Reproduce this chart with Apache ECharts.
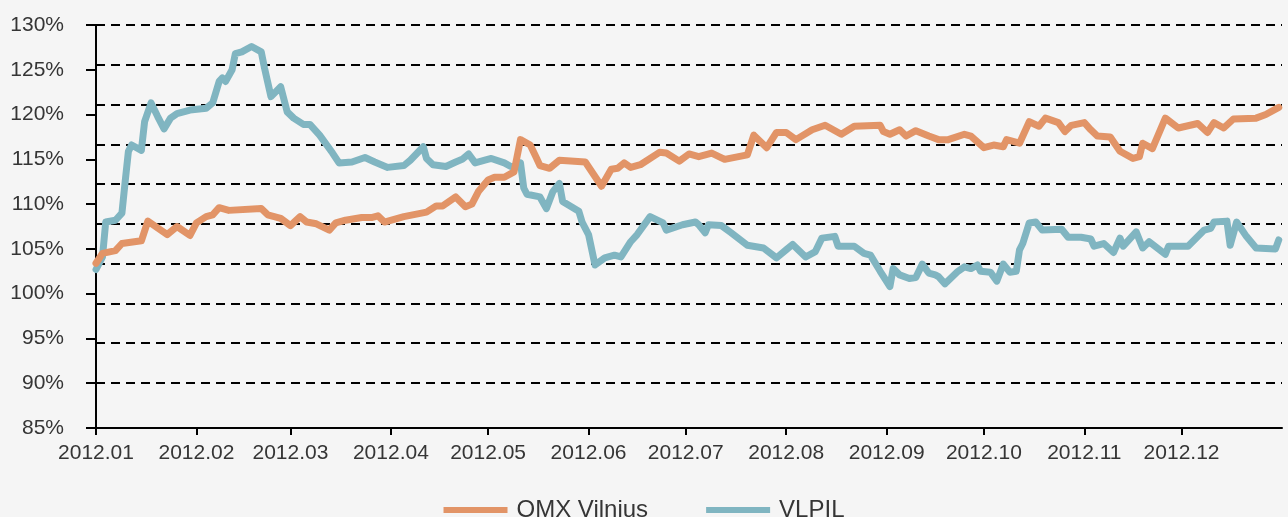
<!DOCTYPE html>
<html><head><meta charset="utf-8">
<script src="https://cdn.jsdelivr.net/npm/echarts@6/dist/echarts.min.js"></script>
<style>html,body{margin:0;padding:0;background:#f5f5f5}#c{width:1288px;height:517px}</style>
</head><body><div id="c"></div>
<script>
const seriesNames = ['OMX Vilnius', 'VLPIL'];
const xMin = '2012-01-01';
const xMax = '2013-01-01';
const yMin = 85, yMax = 130, yStep = 5;
// the dashed guide lines of the original are spaced independently of the % ticks:
// 10 lines evenly between 90% and 130%
const guideCount = 9;

const omxDates = ['2012-01-01','2012-01-03','2012-01-07','2012-01-09','2012-01-15','2012-01-17','2012-01-23','2012-01-26','2012-01-30','2012-02-01','2012-02-04','2012-02-06','2012-02-08','2012-02-11','2012-02-21','2012-02-23','2012-02-27','2012-03-01','2012-03-04','2012-03-06','2012-03-09','2012-03-13','2012-03-15','2012-03-18','2012-03-23','2012-03-26','2012-03-28','2012-03-30','2012-04-05','2012-04-12','2012-04-15','2012-04-17','2012-04-21','2012-04-24','2012-04-26','2012-04-28','2012-05-01','2012-05-03','2012-05-06','2012-05-09','2012-05-11','2012-05-14','2012-05-16','2012-05-17','2012-05-20','2012-05-23','2012-05-31','2012-06-05','2012-06-08','2012-06-10','2012-06-12','2012-06-14','2012-06-17','2012-06-23','2012-06-25','2012-06-29','2012-07-02','2012-07-05','2012-07-09','2012-07-13','2012-07-20','2012-07-22','2012-07-26','2012-07-29','2012-08-01','2012-08-04','2012-08-09','2012-08-13','2012-08-18','2012-08-22','2012-08-30','2012-08-31','2012-09-02','2012-09-05','2012-09-07','2012-09-10','2012-09-14','2012-09-17','2012-09-20','2012-09-25','2012-09-27','2012-10-01','2012-10-04','2012-10-07','2012-10-08','2012-10-12','2012-10-15','2012-10-18','2012-10-20','2012-10-24','2012-10-26','2012-10-28','2012-11-01','2012-11-03','2012-11-05','2012-11-09','2012-11-12','2012-11-16','2012-11-18','2012-11-19','2012-11-22','2012-11-26','2012-11-30','2012-12-06','2012-12-09','2012-12-11','2012-12-14','2012-12-17','2012-12-24','2012-12-27','2012-12-31'];
const omxValues = [103.4,104.5,104.8,105.6,105.9,108.1,106.6,107.5,106.5,107.9,108.6,108.8,109.6,109.3,109.5,108.8,108.4,107.6,108.6,108.0,107.8,107.1,107.9,108.2,108.5,108.5,108.7,108.0,108.6,109.1,109.8,109.8,110.8,109.7,110.0,111.4,112.7,113.0,113.0,113.6,117.2,116.6,115.1,114.3,114.0,114.9,114.7,112.0,113.9,114.0,114.6,114.1,114.4,115.8,115.7,114.8,115.6,115.3,115.7,115.0,115.5,117.7,116.3,118.0,118.0,117.2,118.3,118.8,117.8,118.7,118.8,118.1,117.8,118.3,117.6,118.2,117.6,117.2,117.2,117.8,117.6,116.3,116.6,116.4,117.2,116.8,119.2,118.7,119.6,119.1,118.1,118.8,119.1,118.3,117.6,117.5,115.9,115.1,115.3,116.8,116.2,119.6,118.5,119.0,118.0,119.1,118.5,119.5,119.6,120.0,120.8];

const vlpilDates = ['2012-01-01','2012-01-03','2012-01-04','2012-01-07','2012-01-09','2012-01-10','2012-01-11','2012-01-12','2012-01-15','2012-01-16','2012-01-18','2012-01-20','2012-01-22','2012-01-24','2012-01-26','2012-01-30','2012-02-04','2012-02-06','2012-02-08','2012-02-09','2012-02-10','2012-02-12','2012-02-13','2012-02-15','2012-02-18','2012-02-21','2012-02-22','2012-02-24','2012-02-27','2012-02-29','2012-03-02','2012-03-05','2012-03-07','2012-03-10','2012-03-14','2012-03-16','2012-03-20','2012-03-24','2012-03-27','2012-03-31','2012-04-05','2012-04-07','2012-04-11','2012-04-12','2012-04-14','2012-04-18','2012-04-21','2012-04-23','2012-04-25','2012-04-27','2012-04-30','2012-05-02','2012-05-06','2012-05-08','2012-05-10','2012-05-11','2012-05-12','2012-05-13','2012-05-17','2012-05-19','2012-05-21','2012-05-23','2012-05-24','2012-05-29','2012-05-30','2012-06-01','2012-06-03','2012-06-06','2012-06-09','2012-06-11','2012-06-14','2012-06-16','2012-06-20','2012-06-24','2012-06-25','2012-06-30','2012-07-04','2012-07-05','2012-07-07','2012-07-08','2012-07-12','2012-07-15','2012-07-20','2012-07-25','2012-07-29','2012-08-01','2012-08-03','2012-08-07','2012-08-10','2012-08-12','2012-08-16','2012-08-17','2012-08-22','2012-08-25','2012-08-27','2012-08-30','2012-09-02','2012-09-03','2012-09-05','2012-09-08','2012-09-10','2012-09-12','2012-09-14','2012-09-16','2012-09-17','2012-09-19','2012-09-23','2012-09-25','2012-09-27','2012-09-29','2012-09-30','2012-10-03','2012-10-05','2012-10-07','2012-10-09','2012-10-11','2012-10-12','2012-10-13','2012-10-15','2012-10-17','2012-10-19','2012-10-25','2012-10-27','2012-10-31','2012-11-03','2012-11-04','2012-11-07','2012-11-10','2012-11-12','2012-11-13','2012-11-17','2012-11-19','2012-11-21','2012-11-26','2012-11-27','2012-12-03','2012-12-08','2012-12-10','2012-12-11','2012-12-15','2012-12-16','2012-12-18','2012-12-21','2012-12-24','2012-12-30','2012-12-31'];
const vlpilValues = [102.7,104.1,108.0,108.2,109.0,112.5,115.9,116.6,116.0,119.2,121.3,119.8,118.4,119.6,120.1,120.5,120.7,121.3,123.7,124.1,123.7,125.0,126.8,127.0,127.6,127.0,125.2,122.0,123.1,120.3,119.6,118.9,118.9,117.7,115.7,114.6,114.7,115.2,114.7,114.1,114.3,114.9,116.4,115.1,114.4,114.2,114.7,115.0,115.6,114.6,114.9,115.1,114.6,114.2,114.2,114.6,111.8,111.1,110.8,109.5,111.4,112.3,110.3,109.2,108.0,106.6,103.2,104.0,104.3,104.1,105.8,106.6,108.6,107.9,107.1,107.7,108.0,107.7,106.8,107.7,107.6,106.8,105.4,105.1,104.0,104.9,105.5,104.1,104.7,106.2,106.4,105.3,105.3,104.5,104.3,102.5,100.8,102.8,102.1,101.7,101.8,103.3,102.3,102.1,101.9,101.1,102.5,103.0,102.8,103.2,102.5,102.4,101.4,103.3,102.4,102.5,104.9,105.6,107.9,108.0,107.1,107.2,106.3,106.3,106.1,105.3,105.6,104.6,106.2,105.3,106.9,105.1,105.8,104.4,105.3,105.3,107.1,107.3,108.0,108.1,105.4,108.0,106.4,105.1,105.0,106.0];

const colors = ['#E29467', '#80B5C1'];
const font = 'Liberation Sans, Arial, sans-serif';
const textColor = '#353535';

const chart = echarts.init(document.getElementById('c'), null, {renderer: 'canvas'});
const pad = n => (n < 10 ? '0' : '') + n;

chart.setOption({
  backgroundColor: '#f5f5f5',
  animation: false,
  grid: [
    {left: 96, right: 6, top: 25, bottom: 89, containLabel: false},
    {left: 96, right: 6, top: 25, bottom: 134, containLabel: false}
  ],
  legend: {
    top: 492, left: 'center',
    data: seriesNames,
    icon: 'rect', itemWidth: 64, itemHeight: 6, itemGap: 58,
    textStyle: {fontFamily: font, fontSize: 24, color: textColor, lineHeight: 26, padding: [0, 0, 0, 4]}
  },
  xAxis: [{
    type: 'time', min: xMin, max: xMax, splitNumber: 12, gridIndex: 0,
    axisLine: {onZero: false, lineStyle: {color: '#000', width: 2}},
    axisTick: {show: true, length: 7, lineStyle: {color: '#000', width: 2}},
    splitLine: {show: false},
    axisLabel: {
      margin: 15, fontFamily: font, fontSize: 21, color: textColor,
      formatter: v => { const d = new Date(v); return d.getFullYear() === 2012 ? d.getFullYear() + '.' + pad(d.getMonth() + 1) : ''; }
    }
  }, {
    type: 'value', gridIndex: 1, min: 0, max: 1, show: false
  }],
  yAxis: [{
    type: 'value', min: yMin, max: yMax, interval: yStep, gridIndex: 0,
    axisLine: {show: true, onZero: false, lineStyle: {color: '#000', width: 2}},
    axisTick: {show: true, length: 10, lineStyle: {color: '#000', width: 2}},
    splitLine: {show: false},
    axisLabel: {margin: 32, fontFamily: font, fontSize: 21, color: textColor, formatter: '{value}%'}
  }, {
    type: 'value', gridIndex: 1, min: 0, max: guideCount, interval: 1,
    axisLine: {show: false}, axisTick: {show: false}, axisLabel: {show: false},
    splitLine: {show: true, lineStyle: {color: '#000', width: 2, type: [9, 6]}}
  }],
  series: [
    {name: seriesNames[0], type: 'line', z: 4, showSymbol: false, symbol: 'none',
     xAxisIndex: 0, yAxisIndex: 0,
     data: omxDates.map((d, i) => [d, omxValues[i]]),
     itemStyle: {color: colors[0]},
     lineStyle: {color: colors[0], width: 7, cap: 'round', join: 'round'}},
    {name: seriesNames[1], type: 'line', z: 3, showSymbol: false, symbol: 'none',
     xAxisIndex: 0, yAxisIndex: 0,
     data: vlpilDates.map((d, i) => [d, vlpilValues[i]]),
     itemStyle: {color: colors[1]},
     lineStyle: {color: colors[1], width: 7, cap: 'round', join: 'round'}}
  ]
});
</script>
</body></html>
